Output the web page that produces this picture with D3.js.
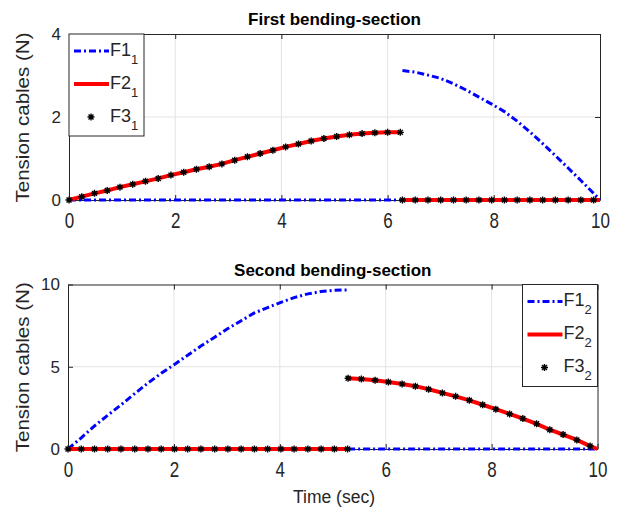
<!DOCTYPE html>
<html><head><meta charset="utf-8">
<script src="https://cdn.jsdelivr.net/npm/d3@7"></script>
<style>body{margin:0;background:#fff}svg{display:block}</style>
</head><body><svg id="c" width="619" height="514"></svg>
<script>
// ---------- data ----------
const xTicks = [0, 2, 4, 6, 8, 10];
const yTicks1 = [0, 2, 4];
const yTicks2 = [0, 5, 10];
const titles = ["First bending-section", "Second bending-section"];
const yLabelText = "Tension cables (N)";
const xLabelText = "Time (sec)";
const seriesNames = ["F1", "F2", "F3"];

// First bending-section, before switch
const t1a = [0,0.24,0.48,0.72,0.96,1.2,1.44,1.68,1.92,2.16,2.4,2.64,2.88,3.12,3.36,3.6,3.84,4.08,4.32,4.56,4.8,5.04,5.28,5.52,5.76,6.0,6.24];
const F1_1a = [0,0,0,0,0,0,0,0,0,0,0,0,0,0,0,0,0,0,0,0,0,0,0,0,0,0,0];
const F2_1a = [0,0.08,0.16,0.23,0.31,0.38,0.45,0.52,0.6,0.67,0.74,0.8,0.87,0.96,1.04,1.12,1.2,1.28,1.35,1.42,1.48,1.53,1.57,1.6,1.62,1.63,1.63];
const F3_1a = [0,0.08,0.16,0.23,0.31,0.38,0.45,0.52,0.6,0.67,0.74,0.8,0.87,0.96,1.04,1.12,1.2,1.28,1.35,1.42,1.48,1.53,1.57,1.6,1.62,1.63,1.63];
// First bending-section, after switch
const t1b = [6.28,6.52,6.76,7.0,7.24,7.48,7.72,7.96,8.2,8.44,8.68,8.92,9.16,9.4,9.64,9.88,10];
const F1_1b = [3.12,3.08,3.01,2.93,2.80,2.65,2.48,2.31,2.13,1.90,1.64,1.36,1.07,0.77,0.47,0.16,0];
const F2_1b = [0,0,0,0,0,0,0,0,0,0,0,0,0,0,0,0,0];
const F3_1b = [0,0,0,0,0,0,0,0,0,0,0,0,0,0,0,0,null];

// Second bending-section, before switch
const t2a = [0,0.25,0.5,0.75,1.0,1.26,1.51,1.76,2.01,2.26,2.51,2.77,3.02,3.27,3.52,3.77,4.02,4.27,4.53,4.78,5.03,5.28];
const F1_2a = [0,0.68,1.4,2.05,2.68,3.37,4.01,4.6,5.14,5.7,6.26,6.8,7.32,7.8,8.27,8.6,8.91,9.2,9.43,9.57,9.65,9.67];
const F2_2a = [0,0,0,0,0,0,0,0,0,0,0,0,0,0,0,0,0,0,0,0,0,0];
const F3_2a = [0,0,0,0,0,0,0,0,0,0,0,0,0,0,0,0,0,0,0,0,0,0];
// Second bending-section, after switch
const t2b = [5.29,5.54,5.80,6.05,6.31,6.56,6.81,7.07,7.32,7.58,7.83,8.08,8.34,8.59,8.85,9.10,9.35,9.61,9.86,10];
const F1_2b = [0,0,0,0,0,0,0,0,0,0,0,0,0,0,0,0,0,0,0,0];
const F2_2b = [4.3,4.26,4.18,4.07,3.95,3.82,3.63,3.41,3.2,2.96,2.69,2.42,2.13,1.85,1.53,1.17,0.88,0.55,0.18,0];
const F3_2b = [4.3,4.26,4.18,4.07,3.95,3.82,3.63,3.41,3.2,2.96,2.69,2.42,2.13,1.85,1.53,1.17,0.88,0.55,0.18,null];

// ---------- layout ----------
const FONT = "'Liberation Sans', Arial, Helvetica, sans-serif";
const AXC = "#262626";
const zip = (t, v) => t.map((d, i) => [d, v[i]]);

const panels = [
  { x0: 69, x1: 600, yb: 200, yt: 34, ymax: 4, yTicks: yTicks1, title: titles[0], sub: "1",
    F1: [zip(t1a, F1_1a), zip(t1b, F1_1b)],
    F2: [zip(t1a, F2_1a), zip(t1b, F2_1b)],
    F3: [zip(t1a, F3_1a), zip(t1b, F3_1b)],
    legend: { x: 69, y: 34, w: 75, h: 102 } },
  { x0: 68, x1: 597.5, yb: 449, yt: 284.5, ymax: 10, yTicks: yTicks2, title: titles[1], sub: "2",
    F1: [zip(t2a, F1_2a), zip(t2b, F1_2b)],
    F2: [zip(t2a, F2_2a), zip(t2b, F2_2b)],
    F3: [zip(t2a, F3_2a), zip(t2b, F3_2b)],
    legend: { x: 522.5, y: 284.5, w: 75, h: 102 } }
];

const svg = d3.select("#c");

// MATLAB-like '*' marker (plus + cross)
const starSym = {
  draw(ctx, size) {
    const r = Math.sqrt(size) / 2;
    const d = r * 0.7071;
    ctx.moveTo(0, -r); ctx.lineTo(0, r);
    ctx.moveTo(-r, 0); ctx.lineTo(r, 0);
    ctx.moveTo(-d, -d); ctx.lineTo(d, d);
    ctx.moveTo(-d, d); ctx.lineTo(d, -d);
  }
};
const starPath = d3.symbol().type(starSym).size(49)();

const F1style = s => s.attr("fill", "none").attr("stroke", "#0000ff").attr("stroke-width", 3)
  .attr("stroke-dasharray", "7,3,2,3");
const F2style = s => s.attr("fill", "none").attr("stroke", "#ff0000").attr("stroke-width", 4);

panels.forEach((p, pi) => {
  const x = d3.scaleLinear().domain([0, 10]).range([p.x0, p.x1]);
  const y = d3.scaleLinear().domain([0, p.ymax]).range([p.yb, p.yt]);
  const g = svg.append("g");

  // grid
  g.append("g").selectAll("line").data(xTicks.slice(1, -1)).join("line")
    .attr("x1", d => x(d)).attr("x2", d => x(d)).attr("y1", p.yt).attr("y2", p.yb)
    .attr("stroke", "#e3e3e3").attr("stroke-width", 1);
  g.append("g").selectAll("line").data(p.yTicks.slice(1, -1)).join("line")
    .attr("y1", d => y(d)).attr("y2", d => y(d)).attr("x1", p.x0).attr("x2", p.x1)
    .attr("stroke", "#e3e3e3").attr("stroke-width", 1);

  // axes (bottom/left with labels, top/right mirrored ticks)
  const xb = d3.axisBottom(x).tickValues(xTicks).tickSizeInner(-5).tickSizeOuter(0).tickPadding(9.6).tickFormat(d3.format("d"));
  const yl = d3.axisLeft(y).tickValues(p.yTicks).tickSizeInner(-5).tickSizeOuter(0).tickPadding(8).tickFormat(d3.format("d"));
  const xt = d3.axisTop(x).tickValues(xTicks).tickSizeInner(-5).tickSizeOuter(0).tickFormat("");
  const yr = d3.axisRight(y).tickValues(p.yTicks).tickSizeInner(-5).tickSizeOuter(0).tickFormat("");
  const styleAxis = a => {
    a.select(".domain").attr("stroke", AXC).attr("stroke-width", 1);
    a.selectAll(".tick line").attr("stroke", AXC).attr("stroke-width", 1);
    a.selectAll("text").attr("fill", AXC).attr("font-family", FONT).attr("font-size", 17);
  };
  g.append("g").attr("transform", `translate(0,${p.yb})`).call(xb).call(styleAxis)
    .selectAll(".tick text").attr("transform", "scale(1,1.3)");
  g.append("g").attr("transform", `translate(${p.x0},0)`).call(yl).call(styleAxis);
  g.append("g").attr("transform", `translate(0,${p.yt})`).call(xt).call(styleAxis);
  g.append("g").attr("transform", `translate(${p.x1},0)`).call(yr).call(styleAxis);

  // data
  const line = d3.line().x(d => x(d[0])).y(d => y(d[1]));
  p.F1.forEach(seg => g.append("path").attr("d", line(seg)).call(F1style));
  p.F2.forEach(seg => g.append("path").attr("d", line(seg)).call(F2style));
  p.F3.forEach(seg => g.append("g").selectAll("path").data(seg.filter(d => d[1] != null)).join("path")
    .attr("d", starPath).attr("transform", d => `translate(${x(d[0])},${y(d[1])})`)
    .attr("fill", "none").attr("stroke", "#000").attr("stroke-width", 1.4));

  // title
  g.append("text").attr("x", (p.x0 + p.x1) / 2).attr("y", p.yt - 9)
    .attr("text-anchor", "middle").attr("font-family", FONT).attr("font-size", 17)
    .attr("font-weight", "bold").attr("fill", "#000").text(p.title);

  // y label
  g.append("text").attr("transform", `translate(29,${(p.yb + p.yt) / 2 + 0.5}) rotate(-90)`)
    .attr("text-anchor", "middle").attr("font-family", FONT).attr("font-size", 18)
    .attr("fill", AXC).attr("textLength", 170).attr("lengthAdjust", "spacingAndGlyphs").text(yLabelText);

  // legend
  const L = p.legend;
  const lg = g.append("g").attr("transform", `translate(${L.x},${L.y})`);
  lg.append("rect").attr("x", 0).attr("y", 0).attr("width", L.w).attr("height", L.h)
    .attr("fill", "#fff").attr("stroke", AXC).attr("stroke-width", 1);
  const rowsY = [17, 50, 83];
  seriesNames.forEach((name, i) => {
    const ry = rowsY[i];
    if (i === 0) lg.append("line").attr("x1", 5).attr("x2", 40).attr("y1", ry).attr("y2", ry).call(F1style);
    if (i === 1) lg.append("line").attr("x1", 5).attr("x2", 40).attr("y1", ry).attr("y2", ry).call(F2style);
    if (i === 2) lg.append("path").attr("d", starPath).attr("transform", `translate(22,${ry})`)
      .attr("fill", "none").attr("stroke", "#000").attr("stroke-width", 1.4);
    const t = lg.append("text").attr("x", 41).attr("y", ry + 4.5).attr("font-family", FONT)
      .attr("font-size", 18).attr("fill", AXC);
    t.append("tspan").text(name);
    t.append("tspan").attr("dy", 8).attr("font-size", 13).text(p.sub);
  });
});

// x label
svg.append("text").attr("x", 334).attr("y", 503).attr("text-anchor", "middle")
  .attr("font-family", FONT).attr("font-size", 17.5).attr("fill", AXC).text(xLabelText);
</script>
</body></html>
